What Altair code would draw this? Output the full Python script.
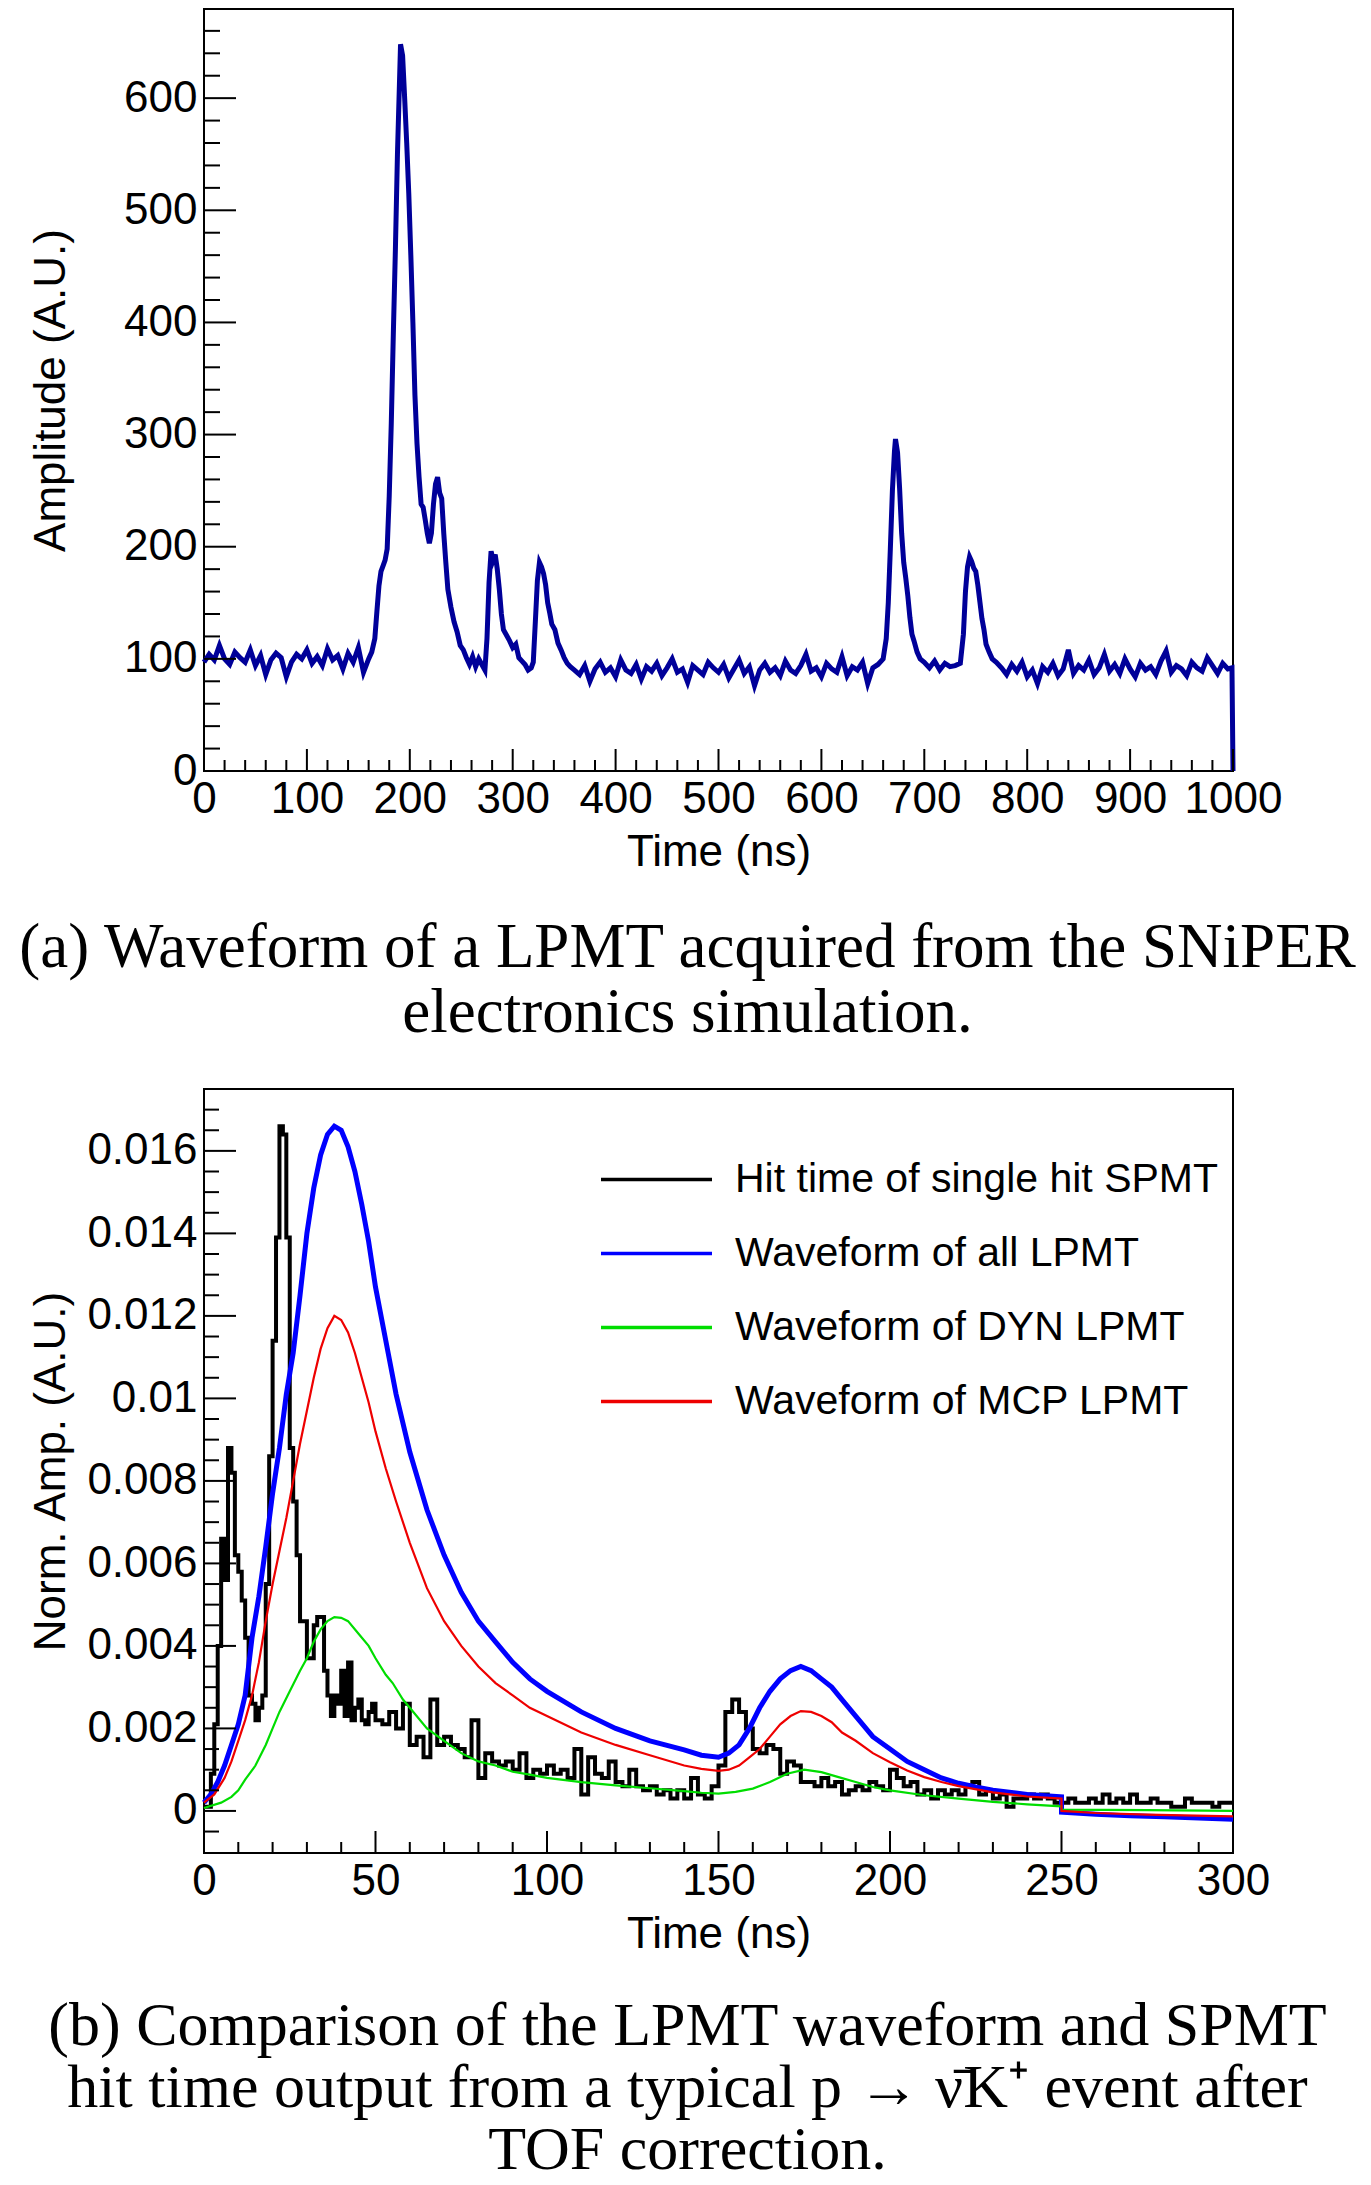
import pandas as pd
import altair as alt

# ---------------- (a) LPMT waveform ----------------
wave_t_a = list(range(0, 161, 5))
wave_amp_a = [97, 104, 99, 112, 100, 95, 106, 101, 97, 108, 94, 103, 86, 99, 105, 101, 84,
              97, 104, 100, 108, 96, 102, 94, 109, 99, 103, 91, 105, 97, 110, 88, 100]
wave_t_b = [163, 166, 168, 170, 172, 174, 176, 178, 180, 182, 184, 186, 188, 190, 191, 193,
            195, 197, 199, 201, 203, 205, 207, 209, 211, 213, 215, 217, 219, 221, 223, 225,
            227, 229, 231, 233, 235, 237, 240, 243, 246, 249, 252, 255, 258, 261, 264, 267,
            270, 273, 275, 277, 279, 281, 283, 285, 287, 289, 291, 294, 297, 300, 303, 306,
            309, 312, 315, 318, 320, 322, 324, 326, 328, 330, 332, 334, 336, 338, 341, 344,
            347, 350, 353, 356, 360]
wave_amp_b = [106, 118, 142, 165, 178, 183, 188, 198, 245, 310, 390, 465, 550, 615, 648, 638,
              600, 560, 515, 460, 400, 335, 292, 262, 238, 235, 224, 212, 203, 212, 238, 256,
              262, 248, 243, 212, 186, 162, 146, 133, 124, 112, 108, 101, 95, 102, 93, 100,
              95, 90, 118, 168, 196, 188, 193, 180, 162, 140, 126, 121, 116, 110, 113, 101,
              98, 95, 90, 92, 97, 133, 170, 186, 182, 176, 166, 150, 141, 131, 126, 114,
              108, 101, 96, 93, 90]
wave_t_c = list(range(365, 656, 5))
wave_amp_c = [86, 94, 80, 91, 97, 88, 92, 84, 99, 90, 87, 95, 82, 93, 89, 96, 85, 92, 100, 88,
              91, 79, 94, 90, 86, 97, 92, 88, 95, 83, 91, 99, 87, 93, 76, 90, 96, 88, 92, 85,
              98, 90, 87, 94, 104, 89, 92, 84, 96, 91, 88, 102, 85, 93, 90, 97, 78, 92, 95]
wave_t_d = [660, 663, 665, 667, 669, 671, 672, 674, 676, 678, 680, 682, 684, 686, 688, 690,
            693, 696, 700, 705, 710, 715, 720, 725, 730, 735, 738, 740, 742, 744, 746, 748,
            750, 752, 754, 756, 758, 760, 763, 766, 770]
wave_amp_d = [100, 118, 150, 198, 250, 285, 296, 284, 252, 212, 186, 172, 156, 137, 122, 116,
              106, 100, 97, 92, 98, 90, 96, 93, 94, 96, 122, 160, 182, 191, 187, 181,
              178, 166, 151, 136, 126, 113, 106, 100, 97]
wave_t_e = list(range(775, 996, 5)) + [999, 1000]
wave_amp_e = [92, 86, 95, 89, 97, 84, 90, 78, 93, 88, 96, 85, 91, 108, 87, 94, 90, 99, 86, 92,
              104, 89, 95, 87, 100, 91, 84, 96, 90, 93, 86, 98, 107, 88, 94, 91, 85, 97, 92, 89,
              101, 94, 87, 96, 91, 92, 0]

wave_t = wave_t_a + wave_t_b + wave_t_c + wave_t_d + wave_t_e
wave_amp = wave_amp_a + wave_amp_b + wave_amp_c + wave_amp_d + wave_amp_e

# ---------------- (b) normalised comparison ----------------
series_names = ["Hit time of single hit SPMT", "Waveform of all LPMT",
                "Waveform of DYN LPMT", "Waveform of MCP LPMT"]
series_colors = ["#000000", "#0000ff", "#00dd00", "#ee0000"]
series_widths = [4, 5, 2.2, 2.2]

# SPMT hit-time histogram: 1 ns bins up to 50 ns, then 2 ns bins
spmt_t = list(range(0, 50)) + list(range(50, 301, 2))
spmt_v_early = [0.0001, 0.0001, 0.0009, 0.0021, 0.0040, 0.0066, 0.0056, 0.0088, 0.0082, 0.0062,
                0.0058, 0.0051, 0.0042, 0.0028, 0.0026, 0.0022, 0.0025, 0.0028, 0.0055, 0.0086,
                0.0114, 0.0139, 0.0166, 0.0164, 0.0139, 0.0088, 0.0075, 0.0062, 0.0046, 0.0046,
                0.0037, 0.0037, 0.0045, 0.0047, 0.0047, 0.0034, 0.0028, 0.0023, 0.0028, 0.0026,
                0.0034, 0.0023, 0.0036, 0.0022, 0.0025, 0.0027, 0.0022, 0.0021, 0.0024, 0.0026]
spmt_v_late = [0.0022, 0.0021, 0.0024, 0.0020, 0.0026, 0.0016, 0.0018, 0.0013, 0.0027, 0.0016,
               0.0018, 0.0016, 0.0015, 0.0013, 0.0022, 0.0008, 0.0014, 0.0012, 0.0011, 0.0012,
               0.0010, 0.0014, 0.0008, 0.0010, 0.0009, 0.0011, 0.0009, 0.0010, 0.0008, 0.0015,
               0.0004, 0.0013, 0.0009, 0.0008, 0.0012, 0.0007, 0.0006, 0.0010, 0.0006, 0.0005,
               0.0006, 0.0004, 0.0005, 0.0003, 0.0005, 0.0003, 0.0008, 0.0004, 0.0003, 0.0006,
               0.0011, 0.0024, 0.0027, 0.0024, 0.0020, 0.0015, 0.0014, 0.0016, 0.0015, 0.0009,
               0.0012, 0.0011, 0.0007, 0.0007, 0.0006, 0.0008, 0.0006, 0.0007, 0.0004, 0.0005,
               0.0006, 0.0005, 0.0007, 0.0006, 0.0005, 0.0010, 0.0008, 0.0006, 0.0007, 0.0004,
               0.0005, 0.0003, 0.0005, 0.0004, 0.0005, 0.0004, 0.0006, 0.0007, 0.0004, 0.0005,
               0.0003, 0.0004, 0.0001, 0.0003, 0.0003, 0.0004, 0.0003, 0.0004, 0.0003, 0.0002,
               0.0002, 0.0003, 0.0002, 0.0002, 0.0003, 0.0002, 0.0004, 0.0002, 0.0003, 0.0002,
               0.0004, 0.0002, 0.0002, 0.0003, 0.0002, 0.0002, 0.0001, 0.0001, 0.0003, 0.0002,
               0.0002, 0.0002, 0.0001, 0.0002, 0.0002, 0.0002]
spmt_v = spmt_v_early + spmt_v_late

all_t = [0, 2, 4, 6, 8, 10, 12, 14, 16, 18, 20, 22, 24, 26, 28, 30, 32, 34, 36, 38, 40, 42,
         44, 46, 48, 50, 53, 56, 60, 65, 70, 75, 80, 85, 90, 95, 100, 110, 120, 130, 140,
         145, 150, 153, 156, 159, 162, 165, 168, 171, 174, 177, 180, 183, 186, 190, 195, 200,
         205, 210, 215, 220, 225, 230, 240, 250, 250, 260, 270, 280, 290, 300]
all_v = [0.0002, 0.0004, 0.0007, 0.0011, 0.0016, 0.0021, 0.0028, 0.0042, 0.0052, 0.0064,
         0.0077, 0.0088, 0.0101, 0.0111, 0.0125, 0.0140, 0.0151, 0.0159, 0.0164, 0.0166,
         0.0165, 0.0161, 0.0155, 0.0147, 0.0138, 0.0127, 0.0114, 0.0101, 0.0087, 0.0073,
         0.0062, 0.0053, 0.0046, 0.0041, 0.0036, 0.0032, 0.0029, 0.0024, 0.0020, 0.0017,
         0.00148, 0.00135, 0.0013, 0.0014, 0.0016, 0.0020, 0.0025, 0.0029, 0.0032, 0.0034,
         0.0035, 0.0034, 0.0032, 0.0030, 0.0027, 0.0023, 0.0018, 0.0015, 0.0012, 0.0010,
         0.0008, 0.00067, 0.00058, 0.0005, 0.0004, 0.00034, -0.00003, -0.00008, -0.00012,
         -0.00014, -0.00017, -0.0002]

mcp_t = [0, 3, 6, 8, 10, 12, 14, 16, 18, 20, 22, 24, 26, 28, 30, 32, 34, 36, 38, 40, 42, 44,
         46, 48, 50, 53, 56, 60, 65, 70, 75, 80, 85, 90, 95, 100, 110, 120, 130, 140, 145,
         150, 153, 156, 159, 162, 165, 168, 171, 174, 177, 180, 183, 186, 190, 195, 200, 205,
         210, 215, 220, 230, 240, 250, 250, 260, 275, 300]
mcp_v = [0.0002, 0.0004, 0.0008, 0.0012, 0.0017, 0.0022, 0.0028, 0.0036, 0.0046, 0.0055,
         0.0063, 0.0071, 0.0080, 0.0089, 0.0097, 0.0105, 0.0112, 0.0117, 0.0120, 0.0119,
         0.0116, 0.0111, 0.0105, 0.0099, 0.0092, 0.0083, 0.0075, 0.0065, 0.0054, 0.0046,
         0.0040, 0.0035, 0.0031, 0.0028, 0.0025, 0.0023, 0.0019, 0.0016, 0.00135, 0.0011,
         0.00102, 0.00097, 0.0010, 0.0011, 0.0013, 0.0015, 0.0018, 0.0021, 0.0023, 0.00242,
         0.0024, 0.0023, 0.00215, 0.0019, 0.0017, 0.0014, 0.00118, 0.00098, 0.00082, 0.0007,
         0.0006, 0.00045, 0.00035, 0.0003, 0.0, -0.00005, -0.00009, -0.00013]

dyn_t = [0, 5, 8, 10, 12, 15, 18, 20, 22, 25, 28, 30, 32, 34, 36, 38, 40, 42, 45, 48, 50, 53,
         55, 58, 60, 65, 70, 75, 80, 85, 90, 95, 100, 110, 120, 130, 140, 145, 150, 155, 160,
         165, 170, 175, 180, 185, 190, 195, 200, 210, 220, 230, 240, 250, 250, 275, 300]
dyn_v = [0.00007, 0.0002, 0.00034, 0.0005, 0.00076, 0.0011, 0.0016, 0.0020, 0.0024, 0.0029,
         0.0034, 0.0037, 0.0041, 0.0044, 0.0046, 0.0047, 0.00468, 0.0046, 0.0043, 0.0040,
         0.0037, 0.0033, 0.0031, 0.0027, 0.0025, 0.0020, 0.0017, 0.0014, 0.0012, 0.0011,
         0.00095, 0.00088, 0.0008, 0.0007, 0.00062, 0.00055, 0.00048, 0.00044, 0.00042,
         0.00046, 0.00054, 0.0007, 0.0009, 0.0010, 0.00094, 0.00082, 0.0007, 0.00058, 0.0005,
         0.00038, 0.0003, 0.00022, 0.00016, 0.00011, 0.00003, 0.00002, 0.0]

# axis tick positions
top_x_major = list(range(0, 1001, 100))
top_x_minor = [v for v in range(0, 1001, 20) if v % 100]
top_y_major = list(range(0, 601, 100))
top_y_minor = [v for v in range(0, 671, 20) if v % 100]
bot_x_major = list(range(0, 301, 50))
bot_x_minor = [v for v in range(0, 301, 10) if v % 50]
bot_y_major = [0, 0.002, 0.004, 0.006, 0.008, 0.01, 0.012, 0.014, 0.016]
bot_y_minor = [-0.0005, 0.0005, 0.001, 0.0015, 0.0025, 0.003, 0.0035, 0.0045, 0.005, 0.0055,
               0.0065, 0.007, 0.0075, 0.0085, 0.009, 0.0095, 0.0105, 0.011, 0.0115, 0.0125,
               0.013, 0.0135, 0.0145, 0.015, 0.0155, 0.0165, 0.017]

W = 1029
H_TOP = 762
H_BOT = 764
CAPTION_FONT = "Liberation Serif"


def tick_layers(xf, yf, xscale, yscale, xmaj, xmin, ymaj, ymin, h, ylen_major, ylen_minor):
    # inward ticks drawn as rules, placed by the chart's own scales
    rule = dict(color="black", strokeWidth=2)
    return [
        alt.Chart(pd.DataFrame({yf: ymaj})).mark_rule(**rule).encode(
            y=alt.Y(f"{yf}:Q", scale=yscale), x=alt.value(0), x2=alt.value(ylen_major)),
        alt.Chart(pd.DataFrame({yf: ymin})).mark_rule(**rule).encode(
            y=alt.Y(f"{yf}:Q", scale=yscale), x=alt.value(0), x2=alt.value(ylen_minor)),
        alt.Chart(pd.DataFrame({xf: xmaj})).mark_rule(**rule).encode(
            x=alt.X(f"{xf}:Q", scale=xscale), y=alt.value(h), y2=alt.value(h - 22)),
        alt.Chart(pd.DataFrame({xf: xmin})).mark_rule(**rule).encode(
            x=alt.X(f"{xf}:Q", scale=xscale), y=alt.value(h), y2=alt.value(h - 11)),
    ]


def caption(lines, size, offset, line_height):
    return alt.TitleParams(
        text=lines, orient="bottom", anchor="middle", frame="group", font=CAPTION_FONT,
        fontSize=size, fontWeight="normal", lineHeight=line_height, offset=offset,
        dx=-31, color="black")


# ---------- top chart ----------
top_x_scale = alt.Scale(domain=[0, 1000], nice=False, zero=False)
top_y_scale = alt.Scale(domain=[0, 679.5], nice=False, zero=False)

df_wave = pd.DataFrame({"t": wave_t, "amp": wave_amp})
df_wave["i"] = range(len(df_wave))

wave = alt.Chart(df_wave).mark_line(color="#000099", strokeWidth=5).encode(
    x=alt.X("t:Q", scale=top_x_scale,
            axis=alt.Axis(values=top_x_major, title="Time (ns)", format="d", labelFlush=False,
                          labelOverlap=False, labelPadding=6, titlePadding=9)),
    y=alt.Y("amp:Q", scale=top_y_scale,
            axis=alt.Axis(values=top_y_major, title="Amplitude (A.U.)", format="d",
                          labelPadding=7, labelOverlap=False, titleX=-153, titleAngle=270,
                          titleBaseline="middle", titleAlign="center")),
    order="i:Q",
)

top = alt.layer(
    wave,
    *tick_layers("t", "amp", top_x_scale, top_y_scale, top_x_major, top_x_minor,
                 top_y_major, top_y_minor, H_TOP, 32, 16),
).properties(
    width=W, height=H_TOP,
    title=caption(["(a) Waveform of a LPMT acquired from the SNiPER",
                   "electronics simulation."], 63, 43, 65),
)

# ---------- bottom chart ----------
bot_x_scale = alt.Scale(domain=[0, 300], nice=False, zero=False)
bot_y_scale = alt.Scale(domain=[-0.00102, 0.0175], nice=False, zero=False)

color_enc = alt.Color(
    "series:N",
    scale=alt.Scale(domain=series_names, range=series_colors),
    legend=alt.Legend(
        orient="none", legendX=432, legendY=70, title=None,
        symbolType="M-4,0H4", symbolSize=770, symbolStrokeWidth=3.5, labelOffset=58,
        labelFontSize=41, labelFont="Liberation Sans", labelColor="black",
        labelLimit=700, rowPadding=32, padding=0,
    ),
)

bottom_layers = []
for k, (name, ts, vs) in enumerate([(series_names[0], spmt_t, spmt_v),
                                    (series_names[1], all_t, all_v),
                                    (series_names[2], dyn_t, dyn_v),
                                    (series_names[3], mcp_t, mcp_v)]):
    part = pd.DataFrame({"series": name, "t": ts, "v": vs})
    part["i"] = range(len(part))
    if k == 0:
        mark = alt.Chart(part).mark_line(interpolate="step-after", strokeWidth=series_widths[k])
        x_enc = alt.X("t:Q", scale=bot_x_scale,
                      axis=alt.Axis(values=bot_x_major, title="Time (ns)", labelFlush=False,
                                    labelOverlap=False, labelPadding=6, titlePadding=9))
        y_enc = alt.Y("v:Q", scale=bot_y_scale,
                      axis=alt.Axis(values=bot_y_major, title="Norm. Amp. (A.U.)",
                                    format="~g", labelPadding=7, labelOverlap=False,
                                    titleX=-153, titleAngle=270, titleBaseline="middle",
                                    titleAlign="center"))
    else:
        mark = alt.Chart(part).mark_line(strokeWidth=series_widths[k])
        x_enc = alt.X("t:Q", scale=bot_x_scale)
        y_enc = alt.Y("v:Q", scale=bot_y_scale)
    bottom_layers.append(mark.encode(x=x_enc, y=y_enc, color=color_enc, order="i:Q"))

bottom = alt.layer(
    *bottom_layers,
    *tick_layers("t", "v", bot_x_scale, bot_y_scale, bot_x_major, bot_x_minor,
                 bot_y_major, bot_y_minor, H_BOT, 32, 15),
).properties(
    width=W, height=H_BOT,
    title=caption(["(b) Comparison of the LPMT waveform and SPMT",
                   "hit time output from a typical p \u2192 \u03bd\u0304K\u207a event after",
                   "TOF correction."], 62, 40, 62),
)

chart = alt.vconcat(top, bottom, spacing=42).resolve_legend(
    color="independent"
).properties(
    padding={"left": 9, "top": 0, "right": 0, "bottom": 0}
).configure(font="Liberation Sans").configure_view(
    stroke="black", strokeWidth=2
).configure_axis(
    labelFontSize=44, titleFontSize=44, labelColor="black", titleColor="black",
    titleFontWeight="normal", ticks=False, domain=False, grid=False,
    labelFont="Liberation Sans", titleFont="Liberation Sans",
)

chart.save("out.html", embed_options={"renderer": "svg", "actions": False})
